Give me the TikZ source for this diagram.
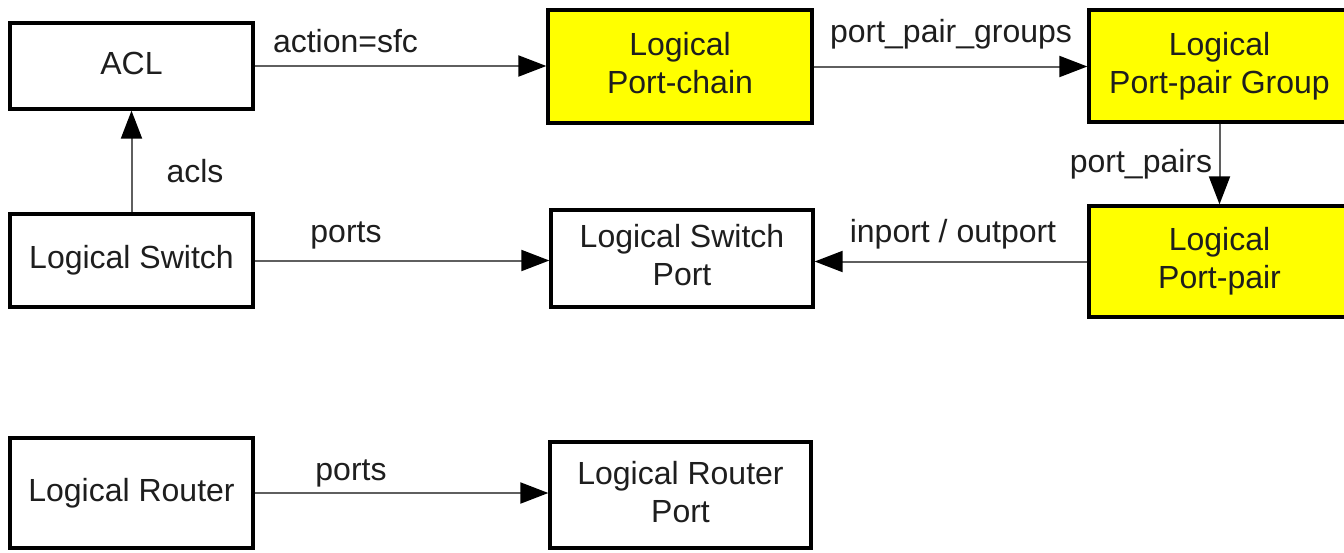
\documentclass[tikz,border=0pt]{standalone}
\usepackage{fontspec}
\setmainfont{Liberation Sans}
\usetikzlibrary{arrows.meta}
\definecolor{boxyellow}{RGB}{255,255,0}
\definecolor{linkgray}{RGB}{95,95,95}
\definecolor{inkdark}{RGB}{30,30,30}
% strut: fixes the height/depth of each text line inside the boxes
\newcommand\bs{\rule[-7pt]{0pt}{30pt}}
\begin{document}
\begin{tikzpicture}[x=1pt,y=-1pt,
  entity/.style={draw=black,line width=3.3pt,fill=white,inner sep=0pt,
    align=center,text=inkdark,font=\fontsize{32}{38}\selectfont},
  hl/.style={entity,fill=boxyellow},
  link/.style={draw=linkgray,line width=2pt,
    -{Triangle[length=28pt,width=21pt,black]}},
  lbl/.style={anchor=base,inner sep=0pt,text=inkdark,font=\fontsize{32}{38}\selectfont}]
\useasboundingbox (0,0) rectangle (1344,552);
\fill[white] (0,0) rectangle (1344,552);
\clip (0,0) rectangle (1344,552);

% entities
\node[entity,minimum width=243pt,minimum height=86pt]  (acl) at (131.5,66)   {\bs ACL};
\node[hl,minimum width=264pt,minimum height=113pt]     (pc)  at (680,66.5)   {\bs Logical\\\bs Port-chain};
\node[hl,minimum width=261pt,minimum height=112pt]     (ppg) at (1219.5,66)  {\bs Logical\\\bs Port-pair Group};
\node[entity,minimum width=243pt,minimum height=93pt]  (ls)  at (131.5,260.5) {\bs Logical Switch};
\node[entity,minimum width=262pt,minimum height=97pt]  (lsp) at (682,258.5)  {\bs Logical Switch\\\bs Port};
\node[hl,minimum width=261pt,minimum height=111pt]     (pp)  at (1219.5,261.5) {\bs Logical\\\bs Port-pair};
\node[entity,minimum width=243pt,minimum height=110pt] (lr)  at (131.5,493)  {\bs Logical Router};
\node[entity,minimum width=261pt,minimum height=106pt] (lrp) at (680.5,495)  {\bs Logical Router\\\bs Port};

% references
\draw[link] (acl.east) -- (acl.east -| pc.west);
\draw[link] (pc.east) -- (pc.east -| ppg.west);
\draw[link] (ppg.south) -- (pp.north);
\draw[link] (ls.north) -- (acl.south);
\draw[link] (ls.east) -- (ls.east -| lsp.west);
\draw[link] (pp.west) -- (pp.west -| lsp.east);
\draw[link] (lr.east) -- (lr.east -| lrp.west);

% reference labels
\node[lbl] (l-action) at (345.5,52)  {action=sfc};
\node[lbl] (l-ppg)    at (951,42)    {port\_pair\_groups};
\node[lbl] (l-pp)     at (1141,172)  {port\_pairs};
\node[lbl] (l-io)     at (953,242)   {inport / outport};
\node[lbl] (l-acls)   at (195,182)   {acls};
\node[lbl] (l-lsp)    at (346,242)   {ports};
\node[lbl] (l-lrp)    at (351,480)   {ports};
\end{tikzpicture}
\end{document}
